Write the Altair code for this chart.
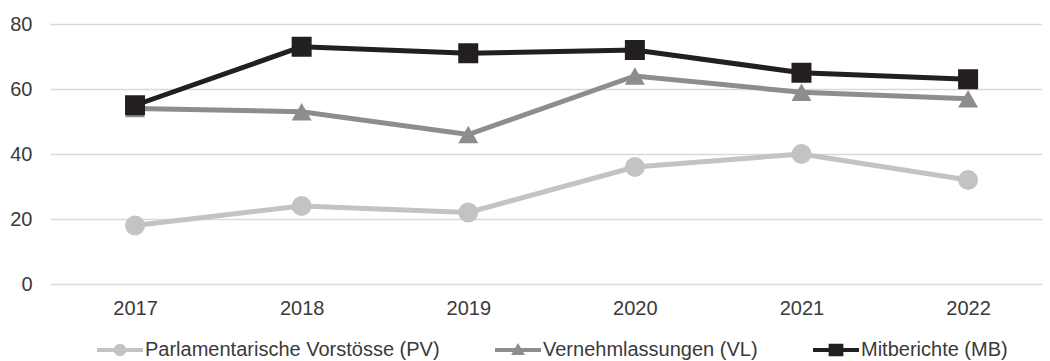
import altair as alt
import pandas as pd

years = ["2017", "2018", "2019", "2020", "2021", "2022"]
pv = [18, 24, 22, 36, 40, 32]
vl = [54, 53, 46, 64, 59, 57]
mb = [55, 73, 71, 72, 65, 63]

series_names = [
    "Parlamentarische Vorstösse (PV)",
    "Vernehmlassungen (VL)",
    "Mitberichte (MB)",
]
series_values = [pv, vl, mb]
colors = ["#c3c3c5", "#8d8d8d", "#231f20"]
marker_shapes = ["circle", "triangle-up", "square"]

line_part = "M-1,-0.09H1V0.09H-1Z"
legend_shapes = [
    line_part + "M0.27,0A0.27,0.27,0,1,1,-0.27,0A0.27,0.27,0,1,1,0.27,0Z",
    line_part + "M0,-0.3L0.3,0.22H-0.3Z",
    line_part + "M-0.32,-0.27H0.32V0.27H-0.32Z",
]

rows = []
for name, vals in zip(series_names, series_values):
    for yr, v in zip(years, vals):
        rows.append({"year": yr, "series": name, "value": v})
df = pd.DataFrame(rows)

FONT = "Liberation Sans"
TEXT = "#3a3a3a"

x_enc = alt.X(
    "year:O",
    scale=alt.Scale(type="point", padding=0.477, align=0.535),
    axis=alt.Axis(title=None, labelAngle=0, domain=False, ticks=False,
                  grid=False, labelPadding=14),
)
y_enc = alt.Y(
    "value:Q",
    scale=alt.Scale(domain=[0, 80]),
    axis=alt.Axis(values=[0, 20, 40, 60, 80], title=None, domain=False,
                  ticks=False, grid=True, gridColor="#d9d9d9", gridWidth=1.5,
                  labelPadding=18),
)

layers = []
for name, col, shp in zip(series_names, colors, marker_shapes):
    sub = alt.Chart(df).transform_filter(alt.datum.series == name)
    layers.append(
        sub.mark_line(color=col, strokeWidth=5).encode(x=x_enc, y=y_enc)
    )
    layers.append(
        sub.mark_point(shape=shp, filled=True, size=400, color=col,
                       opacity=1, strokeWidth=0).encode(x=x_enc, y=y_enc)
    )

legend_layer = (
    alt.Chart(df)
    .transform_filter("false")
    .mark_point(filled=True, size=2116, opacity=1, strokeWidth=0)
    .encode(
        color=alt.Color(
            "series:N",
            scale=alt.Scale(domain=series_names, range=colors),
            legend=alt.Legend(
                title=None, orient="none", direction="horizontal",
                legendX=47, legendY=303,
                labelFontSize=20, labelFont=FONT, labelColor=TEXT,
                labelLimit=600,
                symbolSize=2116, symbolStrokeWidth=0, labelOffset=2,
                columnPadding=55, padding=0,
            ),
        ),
        shape=alt.Shape(
            "series:N",
            scale=alt.Scale(domain=series_names, range=legend_shapes),
        ),
    )
)

chart = (
    alt.layer(*layers, legend_layer)
    .properties(
        width=992, height=260,
        padding={"left": 42, "top": 16, "right": 0, "bottom": 77},
        autosize=alt.AutoSizeParams(type="none"),
        background="white",
    )
    .configure_view(stroke=None)
    .configure_axis(labelFont=FONT, labelFontSize=20, labelColor=TEXT)
)

chart.save("out.html", embed_options={"renderer": "svg", "actions": False})
